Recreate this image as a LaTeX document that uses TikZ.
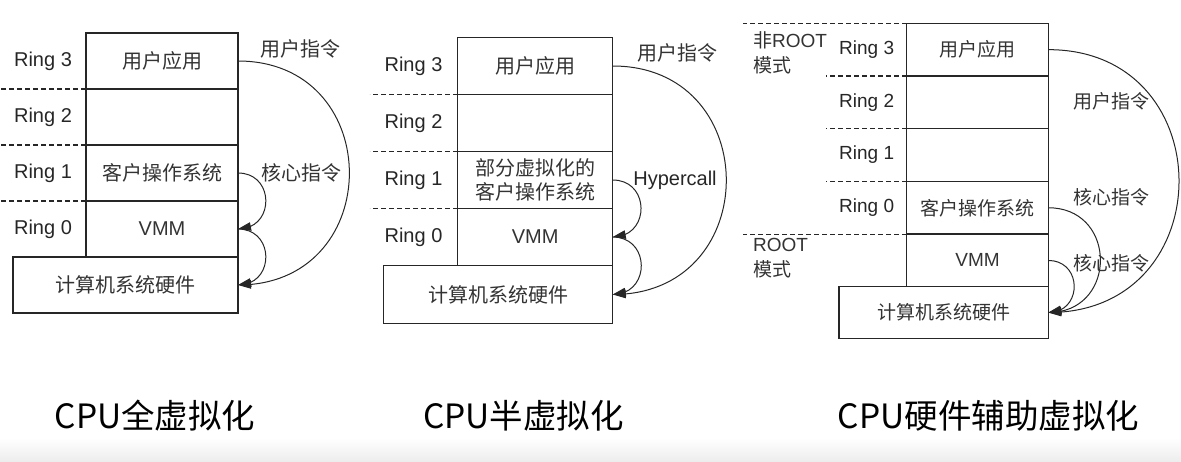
\documentclass[tikz,border=0pt]{standalone}
\usepackage{fontspec}
\setmainfont{Liberation Sans}
\newfontfamily\cjk{Noto Sans CJK SC}
\usetikzlibrary{arrows.meta,bending}
\begin{document}
\begin{tikzpicture}[x=1pt,y=-1pt,
  cell/.style={draw=black!85, line width=1.3pt, inner sep=0pt, outer sep=0pt,
    align=center, font=\cjk\fontsize{20}{24}\selectfont, text=black!80},
  cellc/.style={cell, font=\cjk\fontsize{19}{23}\selectfont},
  ringlbl/.style={font=\fontsize{20}{24}\selectfont, text=black!85, inner sep=0pt},
  ringlblc/.style={font=\fontsize{19}{23}\selectfont, text=black!85, inner sep=0pt},
  arclbl/.style={font=\cjk\fontsize{20}{24}\selectfont, text=black!80, inner sep=0pt},
  arclblc/.style={font=\cjk\fontsize{19}{23}\selectfont, text=black!80, inner sep=0pt},
  modelbl/.style={font=\fontsize{19}{25}\selectfont, text=black!80, align=left, anchor=west, inner sep=0pt},
  ringdash/.style={draw=black!85, line width=1.2pt, dash pattern=on 5pt off 3pt},
  arcline/.style={draw=black!85, line width=1pt, -{Triangle[length=13pt,width=8.5pt,flex]}},
  title/.style={font=\cjk\fontsize{33.5}{40}\selectfont, text=black, inner sep=0pt}
]
\useasboundingbox (0,0) rectangle (1181,461);
\shade[top color=white, bottom color=black!7] (0,438) rectangle (1181,461);

% ---------- Panel 1 ----------
\node[cell, minimum width=152, minimum height=56] (a3) at (162,61) {用户应用};
\node[cell, minimum width=152, minimum height=56] (a2) at (162,117) {};
\node[cell, minimum width=152, minimum height=56] (a1) at (162,173) {客户操作系统};
\node[cell, minimum width=152, minimum height=56, font=\fontsize{20}{24}\selectfont] (a0) at (162,229) {VMM};
\node[cell, minimum width=225, minimum height=56] (ahw) at (125.5,285) {计算机系统硬件};
\draw[ringdash] (a2.north west) -- ++(-86,0);
\draw[ringdash] (a1.north west) -- ++(-86,0);
\draw[ringdash] (a0.north west) -- ++(-86,0);
\node[ringlbl] (ar3) at (43,61) {Ring 3};
\node[ringlbl] (ar2) at (43,117) {Ring 2};
\node[ringlbl] (ar1) at (43,173) {Ring 1};
\node[ringlbl] (ar0) at (43,229) {Ring 0};
\draw[arcline] (a3.east) to[out=0,in=0,looseness=1.7] (ahw.east);
\draw[arcline] (a1.east) to[out=0,in=0,looseness=1.7] (a0.east);
\draw[arcline] (a0.east) to[out=0,in=0,looseness=1.7] (ahw.east);
\node[arclbl] (al1) at (300,49) {用户指令};
\node[arclbl] (al2) at (301,173) {核心指令};
\node[title] (t1) at (155,416) {CPU全虚拟化};

% ---------- Panel 2 ----------
\node[cell, minimum width=155, minimum height=57] (b3) at (535.2,66) {用户应用};
\node[cell, minimum width=155, minimum height=57] (b2) at (535.2,123) {};
\node[cell, minimum width=155, minimum height=57] (b1) at (535.2,180) {部分虚拟化的\\客户操作系统};
\node[cell, minimum width=155, minimum height=57, font=\fontsize{20}{24}\selectfont] (b0) at (535.2,237) {VMM};
\node[cell, minimum width=229.4, minimum height=58] (bhw) at (498,294.5) {计算机系统硬件};
\draw[ringdash] (b2.north west) -- ++(-88,0);
\draw[ringdash] (b1.north west) -- ++(-88,0);
\draw[ringdash] (b0.north west) -- ++(-88,0);
\node[ringlbl] (br3) at (413.5,66) {Ring 3};
\node[ringlbl] (br2) at (413.5,123) {Ring 2};
\node[ringlbl] (br1) at (413.5,180) {Ring 1};
\node[ringlbl] (br0) at (413.5,237) {Ring 0};
\draw[arcline] (b3.east) to[out=0,in=0,looseness=1.7] (bhw.east);
\draw[arcline] (b1.east) to[out=0,in=0,looseness=1.7] (b0.east);
\draw[arcline] (b0.east) to[out=0,in=0,looseness=1.7] (bhw.east);
\node[arclbl] (bl1) at (677,53) {用户指令};
\node[ringlbl] (bl2) at (675,180) {Hypercall};
\node[title] (t2) at (523.5,416) {CPU半虚拟化};

% ---------- Panel 3 ----------
\node[cellc, minimum width=141.6, minimum height=52.7] (c3) at (977.5,49.65) {用户应用};
\node[cellc, minimum width=141.6, minimum height=52.7] (c2) at (977.5,102.35) {};
\node[cellc, minimum width=141.6, minimum height=52.7] (c1) at (977.5,155.05) {};
\node[cellc, minimum width=141.6, minimum height=52.7] (c0) at (977.5,207.75) {客户操作系统};
\node[cellc, minimum width=141.6, minimum height=52.7, font=\fontsize{19}{23}\selectfont] (cv) at (977.5,260.45) {VMM};
\node[cellc, minimum width=209.3, minimum height=51.5] (chw) at (943.65,312.55) {计算机系统硬件};
\draw[ringdash] (c3.north west) -- ++(-163.4,0);
\draw[ringdash] (c2.north west) -- ++(-80.7,0);
\draw[ringdash] (c1.north west) -- ++(-80.7,0);
\draw[ringdash] (c0.north west) -- ++(-80.7,0);
\draw[ringdash] (cv.north west) -- ++(-163.4,0);
\node[ringlblc] (cr3) at (866.7,49.65) {Ring 3};
\node[ringlblc] (cr2) at (866.7,102.35) {Ring 2};
\node[ringlblc] (cr1) at (866.7,155.05) {Ring 1};
\node[ringlblc] (cr0) at (866.7,207.75) {Ring 0};
\node[modelbl] (cm1) at (753,52.5) {{\cjk 非}ROOT\\{\cjk 模式}};
\node[modelbl] (cm2) at (753,258.5) {ROOT\\{\cjk 模式}};
\draw[arcline] (c3.east) to[out=0,in=0,looseness=1.7] (chw.east);
\draw[arcline] (c0.east) to[out=0,in=0,looseness=1.7] (chw.east);
\draw[arcline] (cv.east) to[out=0,in=0,looseness=1.7] (chw.east);
\node[arclblc] (cl1) at (1111,101) {用户指令};
\node[arclblc] (cl2) at (1111,197) {核心指令};
\node[arclblc] (cl3) at (1111,263) {核心指令};
\node[title] (t3) at (988.5,416) {CPU硬件辅助虚拟化};
\end{tikzpicture}
\end{document}
